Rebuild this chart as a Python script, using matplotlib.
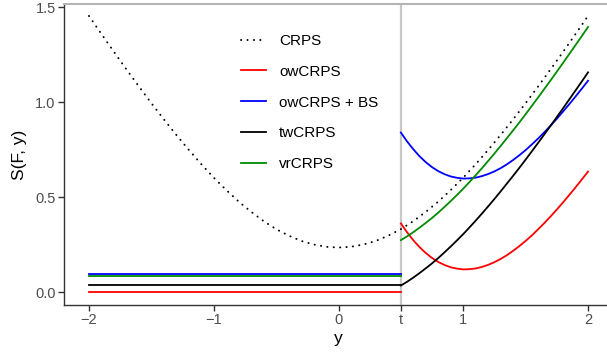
import matplotlib
matplotlib.use("Agg")
import matplotlib.pyplot as plt
import numpy as np

plt.rcParams['font.family'] = ['Liberation Sans', 'DejaVu Sans']

# threshold and x grids
t = 0.5
x_all = np.round(np.arange(-2, 2.001, 0.1), 2)
x_right = np.round(np.arange(0.5, 2.001, 0.05), 2)

# CRPS over the full range
crps = [1.453, 1.358, 1.264, 1.172, 1.082, 0.994, 0.909, 0.827, 0.748, 0.673,
        0.602, 0.537, 0.476, 0.422, 0.373, 0.331, 0.297, 0.269, 0.250, 0.238,
        0.234, 0.238, 0.250, 0.269, 0.297, 0.331, 0.373, 0.422, 0.476, 0.537,
        0.602, 0.673, 0.748, 0.827, 0.909, 0.994, 1.082, 1.172, 1.264, 1.358,
        1.453]

# constant values below the threshold
left_ow = 0.0
left_owbs = 0.0952
left_tw = 0.0344
left_vr = 0.0820

# values above the threshold
ow = [0.361, 0.314, 0.272, 0.236, 0.205, 0.179, 0.158, 0.142, 0.130, 0.123,
      0.119, 0.120, 0.124, 0.132, 0.143, 0.157, 0.174, 0.194, 0.217, 0.242,
      0.269, 0.298, 0.330, 0.363, 0.398, 0.434, 0.472, 0.511, 0.551, 0.592,
      0.634]
owbs = [0.839, 0.792, 0.751, 0.714, 0.683, 0.657, 0.636, 0.620, 0.608, 0.601,
        0.597, 0.598, 0.602, 0.610, 0.621, 0.635, 0.652, 0.672, 0.695, 0.720,
        0.747, 0.777, 0.808, 0.841, 0.876, 0.912, 0.950, 0.989, 1.029, 1.070,
        1.112]
tw = [0.034, 0.054, 0.076, 0.100, 0.125, 0.151, 0.179, 0.209, 0.240, 0.272,
      0.305, 0.340, 0.376, 0.413, 0.451, 0.490, 0.530, 0.571, 0.612, 0.654,
      0.697, 0.741, 0.785, 0.830, 0.875, 0.921, 0.967, 1.014, 1.061, 1.108,
      1.156]
vr = [0.273, 0.293, 0.315, 0.339, 0.364, 0.390, 0.418, 0.448, 0.479, 0.511,
      0.544, 0.579, 0.615, 0.652, 0.690, 0.729, 0.769, 0.810, 0.851, 0.893,
      0.936, 0.980, 1.024, 1.069, 1.114, 1.160, 1.206, 1.253, 1.300, 1.347,
      1.395]

xticks = [-2, -1, 0, t, 1, 2]
xticklabels = ['\u22122', '\u22121', '0', 't', '1', '2']
yticks = [0.0, 0.5, 1.0, 1.5]
yticklabels = ['0.0', '0.5', '1.0', '1.5']

fig = plt.figure(figsize=(6.07, 3.57), dpi=100)
ax = fig.add_axes([64 / 607, 52 / 357, 549 / 607, 301 / 357])

ax.axvline(t, color='#c8c8c8', lw=1.6, zorder=1)

ax.plot(x_all, crps, color='black', ls=(0, (0.1, 3.2)), dash_capstyle='round',
        lw=1.4, label='CRPS')
series = [('owCRPS', '#FF0000', left_ow, ow),
          ('owCRPS + BS', '#0000FF', left_owbs, owbs),
          ('twCRPS', 'black', left_tw, tw),
          ('vrCRPS', '#008B00', left_vr, vr)]
for name, col, lv, rv in series:
    ax.plot([-2, t], [lv, lv], color=col, lw=1.3, label=name)
    ax.plot(x_right, rv, color=col, lw=1.3)

ax.set_xlim(-2.2, 2.2)
ax.set_ylim(-0.0684, 1.5158)
ax.set_xticks(xticks)
ax.set_xticklabels(xticklabels)
ax.set_yticks(yticks)
ax.set_yticklabels(yticklabels)
ax.tick_params(length=4, width=1, color='#333333', labelcolor='#4D4D4D',
               labelsize=10.5, pad=2)
ax.set_xlabel('y', fontsize=12.5, labelpad=3)
ax.set_ylabel('S(F, y)', fontsize=12.5, labelpad=6)

for s in ['left', 'bottom']:
    ax.spines[s].set_color('#333333')
    ax.spines[s].set_linewidth(1.0)
ax.spines['top'].set_color('#b4b4b4')
ax.spines['top'].set_linewidth(1.5)
ax.spines['right'].set_visible(False)

ax.legend(loc='upper left', bbox_to_anchor=(241 / 607, 1 - 34 / 357),
          bbox_transform=fig.transFigure, frameon=False, fontsize=11,
          borderpad=0, borderaxespad=0, labelspacing=1.1,
          handlelength=1.65, handletextpad=0.85)

fig.savefig("out.png")
